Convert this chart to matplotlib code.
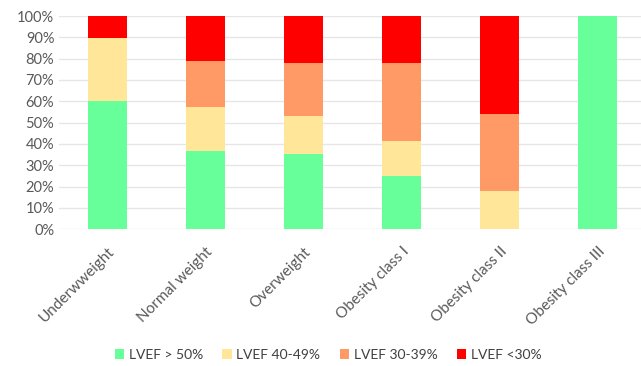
import matplotlib.pyplot as plt
import numpy as np

plt.rcParams['font.family'] = ['Lato', 'DejaVu Sans']

categories = ['Underwweight', 'Normal weight', 'Overweight',
              'Obesity class I', 'Obesity class II', 'Obesity class III']
lvef_gt50 = [60.0, 36.8, 35.3, 24.8, 0.0, 100.0]
lvef_40_49 = [29.8, 20.6, 17.6, 16.6, 17.9, 0.0]
lvef_30_39 = [0.0, 21.5, 24.9, 36.5, 36.3, 0.0]
lvef_lt30 = [10.2, 21.1, 22.2, 22.1, 45.8, 0.0]

series = [
    ('LVEF > 50%', lvef_gt50, '#66FF99'),
    ('LVEF 40-49%', lvef_40_49, '#FFE699'),
    ('LVEF 30-39%', lvef_30_39, '#FF9966'),
    ('LVEF <30%', lvef_lt30, '#FF0000'),
]

fig = plt.figure(figsize=(6.41, 3.66), dpi=100)
ax = fig.add_axes([58.5 / 641, 136.7 / 366, 588 / 641, 213.3 / 366])

x = np.arange(len(categories))
bottom = np.zeros(len(categories))
for label, vals, color in series:
    vals = np.array(vals)
    ax.bar(x, vals, width=0.405, bottom=bottom, color=color, label=label, zorder=2)
    bottom += vals

ax.set_xlim(-0.5, len(categories) - 0.5)
ax.set_ylim(0, 100)
ax.set_yticks(np.arange(0, 101, 10))
ax.set_yticklabels([f'{v}%' for v in range(0, 101, 10)])
ax.yaxis.grid(True, color='#E6E6E6', linewidth=1, zorder=0)
ax.set_axisbelow(True)
for s in ax.spines.values():
    s.set_visible(False)
ax.tick_params(axis='y', length=0, colors='#595959', labelsize=10.5, pad=3)

ax.set_xticks(x)
ax.set_xticklabels(categories, rotation=45, ha='right', va='top',
                   rotation_mode='anchor')
ax.tick_params(axis='x', length=0, colors='#595959', labelsize=11, pad=11)

fig.legend(loc='center', bbox_to_anchor=(328 / 641, 1 - 355 / 366), ncol=4,
           frameon=False, fontsize=10, handlelength=0.7, handleheight=0.7,
           handletextpad=0.3, columnspacing=1.4, labelcolor='#404040')

fig.savefig('out.png', dpi=100)
